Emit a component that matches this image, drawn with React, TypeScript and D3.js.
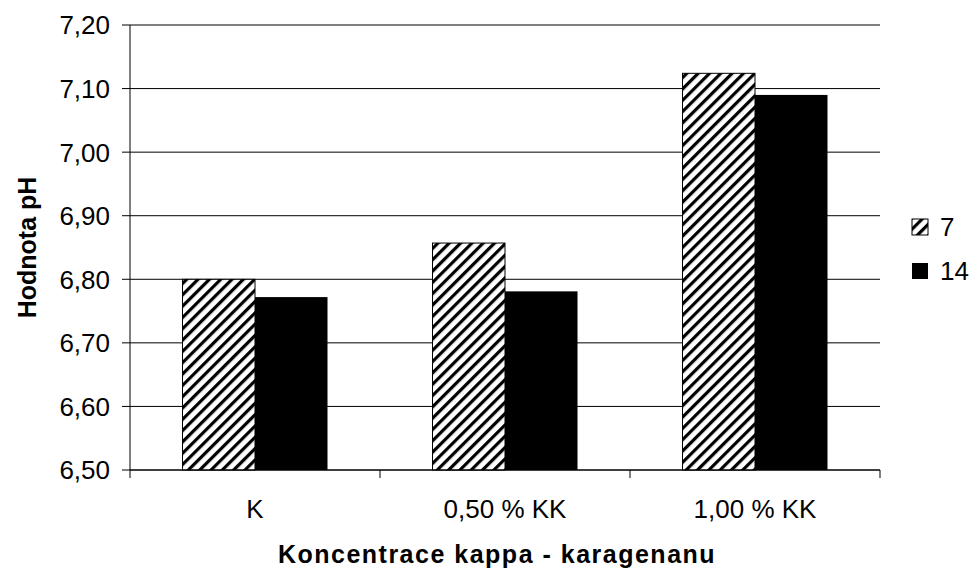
import React from "react";
import * as d3 from "d3";

const categories = ["K", "0,50 % KK", "1,00 % KK"];
const seriesNames = ["7", "14"];
const day7 = [6.8, 6.857, 7.124];
const day14 = [6.772, 6.781, 7.09];
const yTicks = [6.5, 6.6, 6.7, 6.8, 6.9, 7.0, 7.1, 7.2];

const W = 970;
const H = 572;
const plot = { left: 130, right: 880, top: 25, bottom: 470 };
const font = "'Liberation Sans', Arial, sans-serif";

export default function App() {
  const x = d3
    .scaleBand<string>()
    .domain(categories)
    .range([plot.left, plot.right]);
  const y = d3.scaleLinear().domain([6.5, 7.2]).range([plot.bottom, plot.top]);
  const barW = x.bandwidth() * 0.29;
  const fmt = (v: number) => v.toFixed(2).replace(".", ",");
  const series = [day7, day14];

  return (
    <svg
      width={W}
      height={H}
      style={{ position: "absolute", left: 0, top: 0, background: "#fff" }}
      fontFamily={font}
    >
      <defs>
        <pattern
          id="hatch"
          width={8}
          height={8}
          patternUnits="userSpaceOnUse"
          patternTransform="rotate(45)"
        >
          <rect width={8} height={8} fill="#fff" />
          <rect x={0} y={0} width={3.2} height={8} fill="#000" />
        </pattern>
      </defs>

      {/* gridlines and y ticks */}
      {yTicks.map((t) => (
        <g key={t}>
          <line
            x1={plot.left - 8}
            x2={plot.right}
            y1={y(t)}
            y2={y(t)}
            stroke="#000"
            strokeWidth={1}
          />
          <text
            x={110}
            y={y(t)}
            dy="0.36em"
            textAnchor="end"
            fontSize={26}
            fill="#000"
          >
            {fmt(t)}
          </text>
        </g>
      ))}

      {/* bars */}
      {categories.map((c, i) => {
        const cx = (x(c) as number) + x.bandwidth() / 2;
        return (
          <g key={c}>
            {series.map((s, k) => (
              <rect
                key={k}
                x={cx - barW + k * barW}
                y={y(s[i])}
                width={barW}
                height={plot.bottom - y(s[i])}
                fill={k === 0 ? "url(#hatch)" : "#000"}
                stroke="#000"
                strokeWidth={k === 0 ? 1 : 0}
              />
            ))}
          </g>
        );
      })}

      {/* axes */}
      <line x1={plot.left} x2={plot.left} y1={plot.top} y2={plot.bottom} stroke="#000" />
      <line x1={plot.left} x2={plot.right} y1={plot.bottom} y2={plot.bottom} stroke="#000" />
      {[...categories.map((c) => x(c) as number), plot.right].map((v, i) => (
        <line key={i} x1={v} x2={v} y1={plot.bottom} y2={plot.bottom + 8} stroke="#000" />
      ))}
      {categories.map((c) => (
        <text
          key={c}
          x={(x(c) as number) + x.bandwidth() / 2}
          y={518}
          textAnchor="middle"
          fontSize={26}
          fill="#000"
        >
          {c}
        </text>
      ))}

      {/* axis titles */}
      <text
        x={497}
        y={563}
        textAnchor="middle"
        fontSize={25}
        fontWeight="bold"
        letterSpacing={1.5}
      >
        Koncentrace kappa - karagenanu
      </text>
      <text
        transform={`translate(36, ${(plot.top + plot.bottom) / 2}) rotate(-90)`}
        textAnchor="middle"
        fontSize={25}
        fontWeight="bold"
      >
        Hodnota pH
      </text>

      {/* legend */}
      {seriesNames.map((n, k) => (
        <g key={n} transform={`translate(912, ${227 + k * 44})`}>
          <rect
            x={0}
            y={-8}
            width={16}
            height={16}
            fill={k === 0 ? "url(#hatch)" : "#000"}
            stroke="#000"
            strokeWidth={k === 0 ? 1 : 0}
          />
          <text x={28} y={0} dy="0.36em" fontSize={26}>
            {n}
          </text>
        </g>
      ))}
    </svg>
  );
}
